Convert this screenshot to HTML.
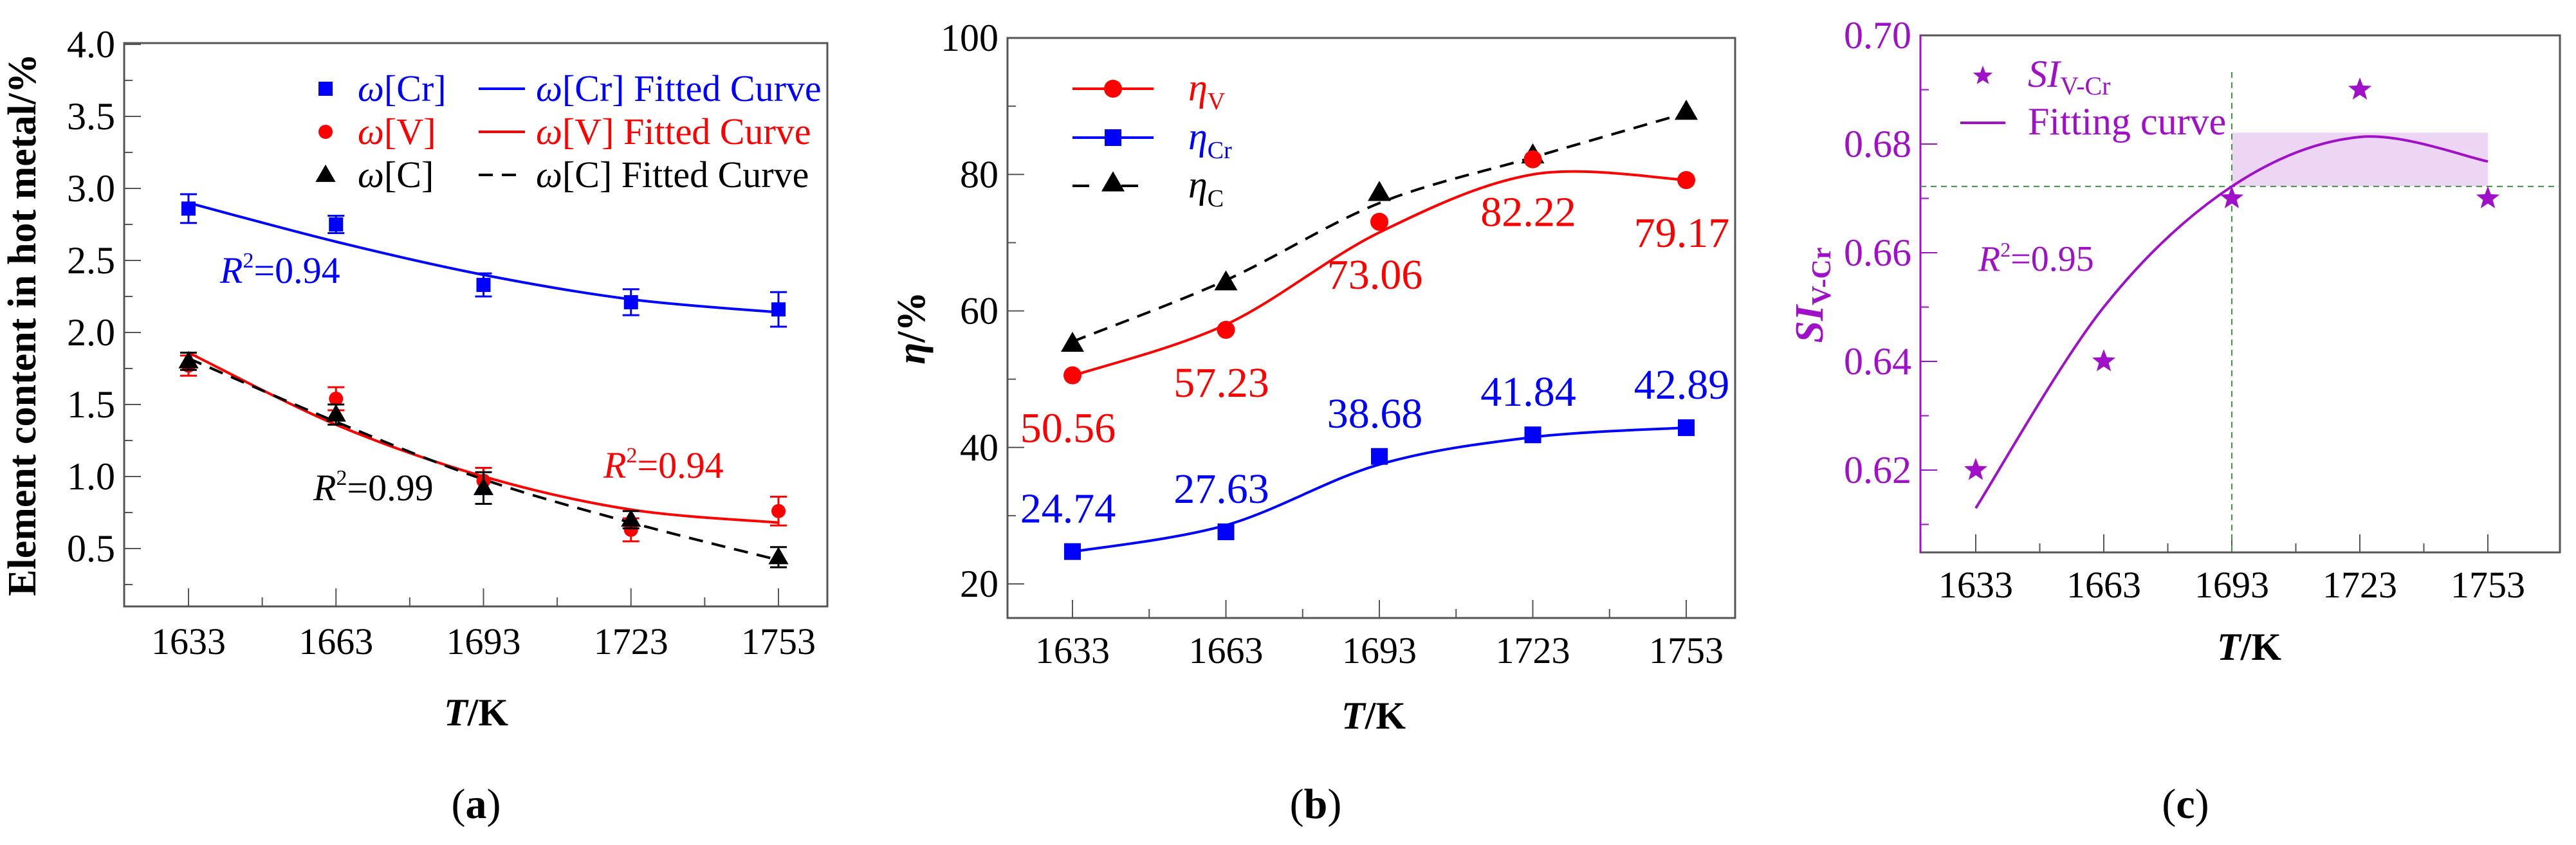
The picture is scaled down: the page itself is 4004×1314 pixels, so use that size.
<!DOCTYPE html>
<html><head><meta charset="utf-8"><style>
html,body{margin:0;padding:0;background:#fff;font-family:"Liberation Serif",serif;}
svg, svg text, svg tspan{font-family:"Liberation Serif",serif !important;}
</style></head><body>
<svg id="fig" width="4004" height="1309" viewBox="0 0 4004 1309" xmlns="http://www.w3.org/2000/svg" style="font-family:'Liberation Serif',serif">
<g id="pa"></g>
<g id="pb"></g>
<g id="pc"></g>
<g>
  <text x="740" y="1272" font-size="66" text-anchor="middle" style="font-family:'Liberation Serif',serif">(<tspan font-weight="bold">a</tspan>)</text>
  <text x="2045" y="1272" font-size="66" text-anchor="middle" style="font-family:'Liberation Serif',serif">(<tspan font-weight="bold">b</tspan>)</text>
  <text x="3397" y="1272" font-size="66" text-anchor="middle" style="font-family:'Liberation Serif',serif">(<tspan font-weight="bold">c</tspan>)</text>
</g>
</svg>
<script>
// ---------- data ----------
const temps = [1633, 1663, 1693, 1723, 1753];
// panel a
const crVals = [2.86, 2.75, 2.33, 2.21, 2.16];
const crErr = [0.10, 0.06, 0.08, 0.09, 0.12];
const vVals = [1.77, 1.54, 0.97, 0.63, 0.76];
const vErr = [0.07, 0.08, 0.09, 0.08, 0.10];
const cVals = [1.80, 1.43, 0.92, 0.70, 0.44];
const cErr = [0.06, 0.07, 0.11, 0.06, 0.07];
const crFit = [2.90, 2.63, 2.40, 2.23, 2.14];
const vFit = [1.86, 1.36, 1.00, 0.77, 0.68];
const cFit = [1.82, 1.38, 0.98, 0.68, 0.42];
const aYTicks = [0.5, 1.0, 1.5, 2.0, 2.5, 3.0, 3.5, 4.0];
// panel b
const etaV = [50.56, 57.23, 73.06, 82.22, 79.17];
const etaCr = [24.74, 27.63, 38.68, 41.84, 42.89];
const etaC = [55.2, 64.2, 77.3, 82.8, 89.2];
const etaVFit = [50.5, 58.0, 71.5, 80.0, 79.2];
const etaCrFit = [24.7, 28.6, 37.5, 41.5, 42.9];
const etaCFit = [55.5, 64.5, 75.8, 82.5, 89.0];
const etaVLabels = ["50.56", "57.23", "73.06", "82.22", "79.17"];
const etaCrLabels = ["24.74", "27.63", "38.68", "41.84", "42.89"];
const bYTicks = [20, 40, 60, 80, 100];
// panel c
const siVals = [0.62, 0.64, 0.67, 0.69, 0.67];
const siFit = [0.613, 0.650, 0.6722, 0.6813, 0.6768];
const siThreshold = 0.6722;
const siBandTop = 0.6821;
const siT = 1693;
const siTEnd = 1753;
const cYTicks = [0.62, 0.64, 0.66, 0.68, 0.70];
const xTickLabels = ["1633", "1663", "1693", "1723", "1753"];

const NS = "http://www.w3.org/2000/svg";
function mk(parent, tag, attrs) {
  const e = document.createElementNS(NS, tag);
  for (const k in attrs) e.setAttribute(k, attrs[k]);
  if (tag === "text") e.style.fontFamily = "'Liberation Serif', serif";
  parent.appendChild(e);
  return e;
}
function lin(d0, d1, r0, r1) { return v => r0 + (v - d0) / (d1 - d0) * (r1 - r0); }
function smooth(pts) {
  let d = `M${pts[0][0]},${pts[0][1]}`;
  for (let i = 0; i < pts.length - 1; i++) {
    const p0 = pts[Math.max(0, i - 1)], p1 = pts[i], p2 = pts[i + 1], p3 = pts[Math.min(pts.length - 1, i + 2)];
    const c1x = p1[0] + (p2[0] - p0[0]) / 6, c1y = p1[1] + (p2[1] - p0[1]) / 6;
    const c2x = p2[0] - (p3[0] - p1[0]) / 6, c2y = p2[1] - (p3[1] - p1[1]) / 6;
    d += ` C${c1x},${c1y} ${c2x},${c2y} ${p2[0]},${p2[1]}`;
  }
  return d;
}
function tri(x, y, s) { return `${x},${y - s * 0.62} ${x - s * 0.6},${y + s * 0.42} ${x + s * 0.6},${y + s * 0.42}`; }
function star(x, y, R) {
  let p = [];
  for (let i = 0; i < 10; i++) {
    const r = i % 2 ? R * 0.42 : R, a = -Math.PI / 2 + i * Math.PI / 5;
    p.push((x + r * Math.cos(a)).toFixed(1) + "," + (y + r * Math.sin(a)).toFixed(1));
  }
  return p.join(" ");
}
function axesFrame(g, L, T, R, B, xs, ys, yMajor, yMinorStep, yMin, yMax, fmt, opts) {
  const col = opts.axisColor || "#555";
  let e;
  e = mk(g, "rect", { x: L, y: T, width: R - L, height: B - T, fill: "none", stroke: "#555", "stroke-width": 3 });
   
  if (opts.axisColor) {
    e = mk(g, "line", { x1: L, y1: T, x2: L, y2: B, stroke: col, "stroke-width": 3 });
     
  }
  for (let t = 1618; t <= 1765; t += 15) {
    const x = xs(t); if (x < L + 2 || x > R - 2) continue;
    const major = (t - 1633) % 30 === 0;
    e = mk(g, "line", { x1: x, y1: B, x2: x, y2: B - (major ? 28 : 14), stroke: "#555", "stroke-width": 2 });
     
  }
  temps.forEach((t, i) => {
    const tx = mk(g, "text", { x: xs(t), y: opts.xLabelY, "font-size": 58, "text-anchor": "middle" });
    tx.textContent = xTickLabels[i];
     
  });
  for (let v = yMin; v <= yMax + 1e-9; v += yMinorStep) {
    const y = ys(v); if (y > B - 2 || y < T + 2) continue;
    const major = yMajor.some(m => Math.abs(m - v) < 1e-6);
    e = mk(g, "line", { x1: L, y1: y, x2: L + (major ? 26 : 13), y2: y, stroke: col, "stroke-width": 2 });
     
  }
  yMajor.forEach(v => {
    const tx = mk(g, "text", { x: L - 14, y: ys(v) + 20, "font-size": 60, "text-anchor": "end", fill: opts.axisColor || "#000" });
    tx.textContent = fmt(v);
     
  });
}

// ---------- panel a ----------
(function () {
  const g = document.getElementById("pa");
  const L = 193, R = 1286, T = 67, B = 943;
  const xs = lin(1633, 1753, 293, 1210);
  const ys = lin(0.5, 4.0, 853, 69);
  axesFrame(g, L, T, R, B, xs, ys, aYTicks, 0.25, 0.25, 4.0, v => v.toFixed(1), { xLabelY: 1017 });
  let e = mk(g, "text", { x: 740, y: 1128, "font-size": 60, "font-weight": "bold", "text-anchor": "middle" });
  e.innerHTML = '<tspan font-style="italic">T</tspan>/K';
   
  e = mk(g, "text", { x: 0, y: 0, "font-size": 62, "font-weight": "bold", "text-anchor": "middle", transform: "translate(55,505) rotate(-90)" });
  e.textContent = "Element content in hot metal/%";
   
  const series = [
    { vals: crVals, err: crErr, fit: crFit, col: "#0000ff", m: "sq", dash: null, n: "cr" },
    { vals: vVals, err: vErr, fit: vFit, col: "#ff0000", m: "ci", dash: null, n: "v" },
    { vals: cVals, err: cErr, fit: cFit, col: "#000000", m: "tr", dash: "22,14", n: "c" }
  ];
  series.forEach(s => {
    const p = mk(g, "path", { d: smooth(temps.map((t, i) => [xs(t), ys(s.fit[i])])), fill: "none", stroke: s.col, "stroke-width": 4 });
    if (s.dash) p.setAttribute("stroke-dasharray", s.dash);
     
  });
  series.forEach(s => {
    temps.forEach((t, i) => {
      const x = xs(t), y = ys(s.vals[i]), y1 = ys(s.vals[i] + s.err[i]), y2 = ys(s.vals[i] - s.err[i]);
      const eb = mk(g, "path", { d: `M${x},${y1}V${y2}M${x - 13},${y1}H${x + 13}M${x - 13},${y2}H${x + 13}`, stroke: s.col, "stroke-width": 3, fill: "none" });
       
      let mkr;
      if (s.m === "sq") mkr = mk(g, "rect", { x: x - 11, y: y - 11, width: 22, height: 22, fill: s.col });
      else if (s.m === "ci") mkr = mk(g, "circle", { cx: x, cy: y, r: 11, fill: s.col });
      else mkr = mk(g, "polygon", { points: tri(x, y, 26), fill: s.col });
       
    });
  });
  const rows = [138, 205, 272], cols = ["#0000ff", "#ff0000", "#000000"], names = ["Cr", "V", "C"];
  rows.forEach((y, i) => {
    let m;
    if (i === 0) m = mk(g, "rect", { x: 495, y: y - 11, width: 22, height: 22, fill: cols[i] });
    else if (i === 1) m = mk(g, "circle", { cx: 506, cy: y, r: 11, fill: cols[i] });
    else m = mk(g, "polygon", { points: tri(506, y, 26), fill: cols[i] });
     
    let t = mk(g, "text", { x: 556, y: y + 19, "font-size": 58, fill: cols[i] });
    t.innerHTML = '<tspan font-style="italic">ω</tspan>[' + names[i] + ']';
     
    let l = mk(g, "line", { x1: 744, y1: y, x2: 816, y2: y, stroke: cols[i], "stroke-width": 4 });
    if (i === 2) l.setAttribute("stroke-dasharray", "22,14");
     
    t = mk(g, "text", { x: 833, y: y + 19, "font-size": 58, fill: cols[i] });
    t.innerHTML = '<tspan font-style="italic">ω</tspan>[' + names[i] + '] Fitted Curve';
     
  });
  const r2 = [[342, 440, "#0000ff", "0.94"], [487, 778, "#000", "0.99"], [938, 743, "#ff0000", "0.94"]];
  r2.forEach(r => {
    const t = mk(g, "text", { x: r[0], y: r[1], "font-size": 58, fill: r[2] });
    t.innerHTML = '<tspan font-style="italic">R</tspan><tspan font-size="34" dy="-24">2</tspan><tspan dy="24">=' + r[3] + '</tspan>';
     
  });
})();

// ---------- panel b ----------
(function () {
  const g = document.getElementById("pb");
  const L = 1566, R = 2697, T = 59, B = 961;
  const xs = lin(1633, 1753, 1667, 2621);
  const ys = lin(20, 100, 908, 59);
  axesFrame(g, L, T, R, B, xs, ys, bYTicks, 10, 20, 100, v => String(v), { xLabelY: 1031 });
  let e = mk(g, "text", { x: 2135, y: 1133, "font-size": 60, "font-weight": "bold", "text-anchor": "middle" });
  e.innerHTML = '<tspan font-style="italic">T</tspan>/K';
   
  e = mk(g, "text", { x: 0, y: 0, "font-size": 62, "font-weight": "bold", "text-anchor": "middle", transform: "translate(1437,510) rotate(-90)" });
  e.innerHTML = '<tspan font-style="italic">η</tspan>/%';
   
  const S = [
    { v: etaC, f: etaCFit, col: "#000", m: "tr", dash: "22,14", n: "eta-c" },
    { v: etaV, f: etaVFit, col: "#ff0000", m: "ci", dash: null, n: "eta-v" },
    { v: etaCr, f: etaCrFit, col: "#0000ff", m: "sq", dash: null, n: "eta-cr" }
  ];
  S.forEach(s => {
    const p = mk(g, "path", { d: smooth(temps.map((t, i) => [xs(t), ys(s.f[i])])), fill: "none", stroke: s.col, "stroke-width": 4 });
    if (s.dash) p.setAttribute("stroke-dasharray", s.dash);
     
    temps.forEach((t, i) => {
      const x = xs(t), y = ys(s.v[i]);
      let m;
      if (s.m === "sq") m = mk(g, "rect", { x: x - 13, y: y - 13, width: 26, height: 26, fill: s.col });
      else if (s.m === "ci") m = mk(g, "circle", { cx: x, cy: y, r: 14, fill: s.col });
      else m = mk(g, "polygon", { points: tri(x, y, 30), fill: s.col });
       
    });
  });
  temps.forEach((t, i) => {
    let tx = mk(g, "text", { x: xs(t) - 7, y: ys(etaV[i]) + 104, "font-size": 66, "text-anchor": "middle", fill: "#ff0000" });
    tx.textContent = etaVLabels[i];
     
    tx = mk(g, "text", { x: xs(t) - 7, y: ys(etaCr[i]) - 45, "font-size": 66, "text-anchor": "middle", fill: "#0000ff" });
    tx.textContent = etaCrLabels[i];
     
  });
  const ly = [138, 214, 289], lc = ["#ff0000", "#0000ff", "#000"], ls = ["V", "Cr", "C"];
  ly.forEach((y, i) => {
    const l = mk(g, "line", { x1: 1667, y1: y, x2: 1793, y2: y, stroke: lc[i], "stroke-width": 4 });
    if (i === 2) l.setAttribute("stroke-dasharray", "26,50");
     
    let m;
    if (i === 0) m = mk(g, "circle", { cx: 1730, cy: y, r: 14, fill: lc[i] });
    else if (i === 1) m = mk(g, "rect", { x: 1717, y: y - 13, width: 26, height: 26, fill: lc[i] });
    else m = mk(g, "polygon", { points: tri(1730, y - 4, 30), fill: lc[i] });
     
    const t = mk(g, "text", { x: 1847, y: y + 18, "font-size": 60, fill: lc[i] });
    t.innerHTML = '<tspan font-style="italic">η</tspan><tspan font-size="38" dy="14">' + ls[i] + '</tspan>';
     
  });
})();

// ---------- panel c ----------
(function () {
  const g = document.getElementById("pc");
  const P = "#a010c8";
  const L = 2985, R = 3979, T = 55, B = 859;
  const xs = lin(1633, 1753, 3071, 3867);
  const ys = lin(0.62, 0.70, 731, 55);
  let e = mk(g, "rect", { x: xs(siT), y: ys(siBandTop), width: xs(siTEnd) - xs(siT), height: ys(siThreshold) - ys(siBandTop), fill: "#ecd6f4" });
   
  axesFrame(g, L, T, R, B, xs, ys, cYTicks, 0.01, 0.61, 0.70, v => v.toFixed(2), { xLabelY: 929, axisColor: P });
  e = mk(g, "line", { x1: L, y1: ys(siThreshold), x2: R, y2: ys(siThreshold), stroke: "#3a9a3a", "stroke-width": 2, "stroke-dasharray": "9,7" });
   
  e = mk(g, "line", { x1: xs(siT), y1: 112, x2: xs(siT), y2: B, stroke: "#3a9a3a", "stroke-width": 2, "stroke-dasharray": "9,7" });
   
  e = mk(g, "path", { d: smooth(temps.map((t, i) => [xs(t), ys(siFit[i])])), fill: "none", stroke: P, "stroke-width": 4 });
   
  temps.forEach((t, i) => {
    const s = mk(g, "polygon", { points: star(xs(t), ys(siVals[i]), 19), fill: P });
     
  });
  e = mk(g, "text", { x: 3496, y: 1026, "font-size": 60, "font-weight": "bold", "text-anchor": "middle" });
  e.innerHTML = '<tspan font-style="italic">T</tspan>/K';
   
  e = mk(g, "text", { x: 0, y: 0, "font-size": 62, "font-weight": "bold", "text-anchor": "middle", fill: P, transform: "translate(2833,459) rotate(-90)" });
  e.innerHTML = '<tspan font-style="italic">SI</tspan><tspan font-size="42" dy="12">V-Cr</tspan>';
   
  e = mk(g, "polygon", { points: star(3082, 118, 16), fill: P });
   
  e = mk(g, "text", { x: 3152, y: 135, "font-size": 60, fill: P });
  e.innerHTML = '<tspan font-style="italic">SI</tspan><tspan font-size="40" dy="12">V-Cr</tspan>';
   
  e = mk(g, "line", { x1: 3047, y1: 191, x2: 3117, y2: 191, stroke: P, "stroke-width": 4 });
   
  e = mk(g, "text", { x: 3152, y: 209, "font-size": 60, fill: P });
  e.textContent = "Fitting curve";
   
  e = mk(g, "text", { x: 3075, y: 421, "font-size": 56, fill: P });
  e.innerHTML = '<tspan font-style="italic">R</tspan><tspan font-size="32" dy="-22">2</tspan><tspan dy="22">=0.95</tspan>';
   
})();
</script>
</body></html>
